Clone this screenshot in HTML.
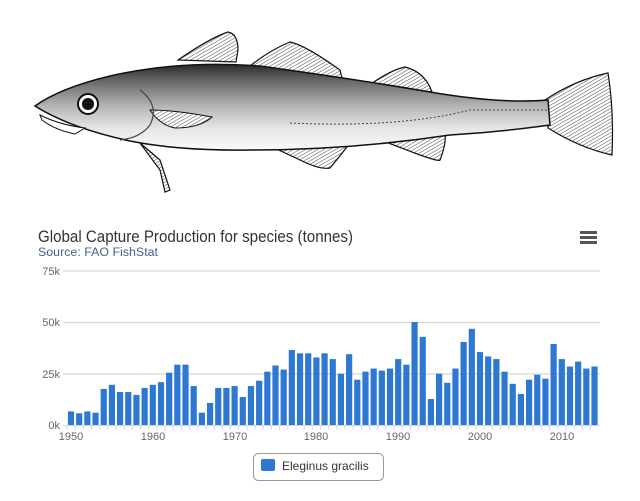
<!DOCTYPE html>
<html><head><meta charset="utf-8"><style>
html,body{margin:0;padding:0;background:#fff;width:640px;height:501px;overflow:hidden}
svg{display:block;font-family:"Liberation Sans",sans-serif}
</style></head><body>
<svg id="s" width="640" height="501" viewBox="0 0 640 501" xmlns="http://www.w3.org/2000/svg">
<defs>
<linearGradient id="bg" x1="0" y1="0" x2="0" y2="1">
<stop offset="0" stop-color="#2a2a2a"/><stop offset="0.2" stop-color="#6a6a6a"/><stop offset="0.5" stop-color="#b8b8b8"/><stop offset="0.75" stop-color="#e6e6e6"/><stop offset="1" stop-color="#fafafa"/>
</linearGradient>
<pattern id="st" width="3" height="3" patternUnits="userSpaceOnUse" patternTransform="rotate(60)">
<rect width="3" height="3" fill="#fff"/><line x1="0" y1="0" x2="0" y2="3" stroke="#333" stroke-width="0.9"/>
</pattern>
</defs>
<g stroke="#111" stroke-width="1.2" fill="url(#st)">
<path d="M178,60 Q210,38 228,32 Q238,34 238,50 L236,62 Z"/>
<path d="M250,66 Q270,50 290,42 Q305,45 340,70 L343,82 Z"/>
<path d="M365,88 Q390,70 405,67 Q425,72 432,92 Z"/>
<path d="M253,138 L300,160 Q320,170 330,168 Q345,150 352,140 Z"/>
<path d="M370,136 L420,155 Q440,162 440,160 Q448,140 444,128 Z"/>
<path d="M140,143 L160,170 L165,192 L170,190 L160,160 Z"/>
<path d="M545,100 Q575,80 608,73 Q614,110 612,155 Q580,148 548,128 Z"/>
</g>
<path d="M35,106 Q60,88 110,76 Q180,60 260,66 Q360,80 430,92 Q500,104 548,100 L550,125 Q500,132 450,135 Q350,150 250,150 Q180,151 130,141 Q70,128 35,106 Z" fill="url(#bg)" stroke="#111" stroke-width="1.5"/>
<path d="M150,110 Q175,110 212,117 Q200,128 175,128 Q160,125 150,110 Z" fill="url(#st)" stroke="#111" stroke-width="1"/>
<path d="M40,115 Q60,125 85,128 L75,134 Q55,130 42,120 Z" fill="#fff" stroke="#111" stroke-width="1"/>
<path d="M140,90 Q160,105 150,125 Q140,138 120,140" fill="none" stroke="#444" stroke-width="1.2"/>
<circle cx="88" cy="104" r="10" fill="#fff" stroke="#111" stroke-width="2"/>
<circle cx="88" cy="104" r="6" fill="#111"/>
<path d="M290,123 Q400,128 470,110 L548,110" fill="none" stroke="#444" stroke-dasharray="2,2"/>
<text x="38" y="242" font-size="17" fill="#333" textLength="315" lengthAdjust="spacingAndGlyphs">Global Capture Production for species (tonnes)</text>
<text x="38" y="256" font-size="11.5" fill="#4a5f8c" textLength="120" lengthAdjust="spacingAndGlyphs">Source: FAO FishStat</text>
<g fill="#555"><rect x="580" y="231" width="17" height="3"/><rect x="580" y="236" width="17" height="3"/><rect x="580" y="241" width="17" height="3"/></g>
<g stroke="#d8d8d8" stroke-width="1.3">
<line x1="63" y1="271" x2="600" y2="271"/><line x1="63" y1="322.5" x2="600" y2="322.5"/><line x1="63" y1="374" x2="600" y2="374"/>
</g>
<g font-size="11" fill="#666" text-anchor="end">
<text x="60" y="275">75k</text><text x="60" y="326">50k</text><text x="60" y="378">25k</text><text x="60" y="429">0k</text>
</g>
<g id="bars" fill="#2f78d1"></g>
<line x1="63" y1="425.5" x2="600" y2="425.5" stroke="#ccd6eb"/>
<g id="ticks" stroke="#ccd6eb"></g>
<g font-size="11" fill="#666" text-anchor="middle">
<text x="71" y="440">1950</text><text x="153" y="440">1960</text><text x="235" y="440">1970</text><text x="316" y="440">1980</text><text x="398" y="440">1990</text><text x="480" y="440">2000</text><text x="562" y="440">2010</text>
</g>
<rect x="253.5" y="453.5" width="130" height="27" rx="5" fill="#fff" stroke="#999"/>
<rect x="261" y="459" width="14" height="12" rx="2" fill="#2f78d1"/>
<text x="282" y="470" font-size="12" fill="#333">Eleginus gracilis</text>
</svg>
<script>
var v=[6.6,5.7,6.6,6,17.5,19.5,16,16,14.6,18,19.5,20.8,25.4,29.3,29.3,18.9,6,10.7,18,18,18.9,13.6,18.9,21.5,25.9,28.9,26.9,36.4,34.8,34.8,32.8,34.8,32,24.9,34.4,22,25.9,27.4,26.4,27.4,32,29.3,50,42.8,12.6,24.9,20.5,27.4,40.3,46.7,35.4,33.3,32,25.9,20,15.1,22,24.4,22.5,39.3,32,28.4,30.8,27.4,28.4];
var ns="http://www.w3.org/2000/svg",b=document.getElementById("bars"),t=document.getElementById("ticks");
for(var i=0;i<v.length;i++){var r=document.createElementNS(ns,"rect");var x=67.9+i*8.18,h=v[i]*2.06;
r.setAttribute("x",x);r.setAttribute("y",425-h);r.setAttribute("width",6.2);r.setAttribute("height",h);b.appendChild(r);
var l=document.createElementNS(ns,"line");var tx=x-1;l.setAttribute("x1",tx);l.setAttribute("x2",tx);l.setAttribute("y1",425);l.setAttribute("y2",430);t.appendChild(l);}
</script>
</body></html>
